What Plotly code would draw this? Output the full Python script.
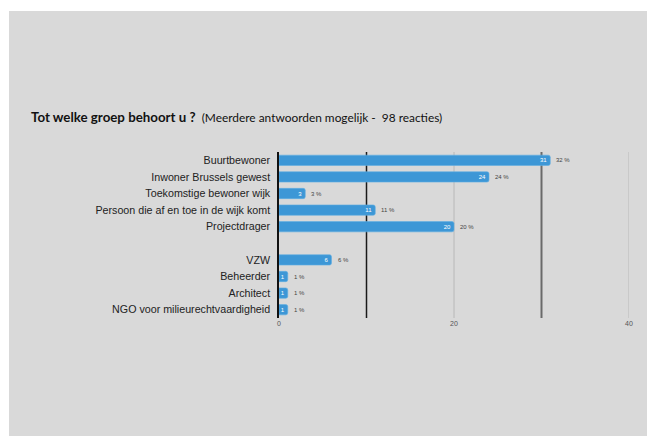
# horizontal bar chart - survey "Tot welke groep behoort u ?"
import plotly.graph_objs as go

categories = ['Buurtbewoner', 'Inwoner Brussels gewest', 'Toekomstige bewoner wijk',
              'Persoon die af en toe in de wijk komt', 'Projectdrager', ' ',
              'VZW', 'Beheerder', 'Architect', 'NGO voor milieurechtvaardigheid']
counts = [31, 24, 3, 11, 20, None, 6, 1, 1, 1]
percents = ['32 %', '24 %', '3 %', '11 %', '20 %', '', '6 %', '1 %', '1 %', '1 %']

tick_vals = [0, 20, 40]
grid_lines = [(10, '#1a1a1a', 1.5), (20, '#b8b8b8', 1), (30, '#6a6a6a', 2), (40, '#b8b8b8', 1)]

# page body has an 8px margin, so figure pixel = page pixel - 8
W, H = 655, 436
L, T = 271, 144
pw, ph = 350, 166
R, B = W - L - pw, H - T - ph

def px(x):
    return (x - L) / pw

def py(y):
    return (H - B - y) / ph

bar = go.Bar(
    y=categories,
    x=counts,
    orientation='h',
    width=0.62,
    marker=dict(color='#3d97d6', line=dict(color='#62aee3', width=0.6), cornerradius=2),
    text=[str(c) if c else '' for c in counts],
    textposition='inside',
    insidetextanchor='end',
    textangle=0,
    constraintext='none',
    textfont=dict(size=6, color='white', family='Liberation Sans'),
    hoverinfo='skip',
)

shapes = []
for gx, col, w in grid_lines:
    shapes.append(dict(type='line', xref='x', yref='paper', x0=gx, x1=gx, y0=0, y1=1,
                       line=dict(color=col, width=w), layer='below'))
# thin white edges at left and top of the grey panel
shapes.append(dict(type='rect', xref='paper', yref='paper', x0=px(0), x1=px(1), y0=py(H), y1=py(0),
                   fillcolor='white', line=dict(width=0), layer='above'))
shapes.append(dict(type='rect', xref='paper', yref='paper', x0=px(0), x1=px(W), y0=py(3), y1=py(0),
                   fillcolor='white', line=dict(width=0), layer='above'))

annotations = []
for cat, c, p in zip(categories, counts, percents):
    if c:
        annotations.append(dict(x=c, y=cat, xref='x', yref='y', text=p, showarrow=False,
                                xanchor='left', xshift=4,
                                font=dict(size=6, color='#444444', family='Liberation Sans')))
annotations.append(dict(xref='paper', yref='paper', x=px(21), y=py(109), xanchor='left', yanchor='middle',
                        showarrow=False,
                        text='<span style="font-size:13.3px"><b>Tot welke groep behoort u ?</b></span>'
                             '  (Meerdere antwoorden mogelijk -  98 reacties)',
                        font=dict(size=11.9, color='#111111', family='Lato')))

layout = go.Layout(
    width=W, height=H,
    margin=dict(l=L, r=R, t=T, b=B),
    paper_bgcolor='#d9d9d9',
    plot_bgcolor='#d9d9d9',
    showlegend=False,
    bargap=0.38,
    xaxis=dict(range=[0, 40], tickvals=tick_vals, showgrid=False, zeroline=False,
               tickfont=dict(size=7, color='#555555', family='Liberation Sans'),
               ticks='', fixedrange=True),
    yaxis=dict(autorange='reversed', showline=True, linecolor='#111111', linewidth=1.5,
               showgrid=False, ticks='', ticklabelstandoff=5,
               tickfont=dict(size=10.7, color='#222222', family='Liberation Sans')),
    shapes=shapes,
    annotations=annotations,
)

fig = go.Figure(data=[bar], layout=layout)
fig.write_html('out.html')
